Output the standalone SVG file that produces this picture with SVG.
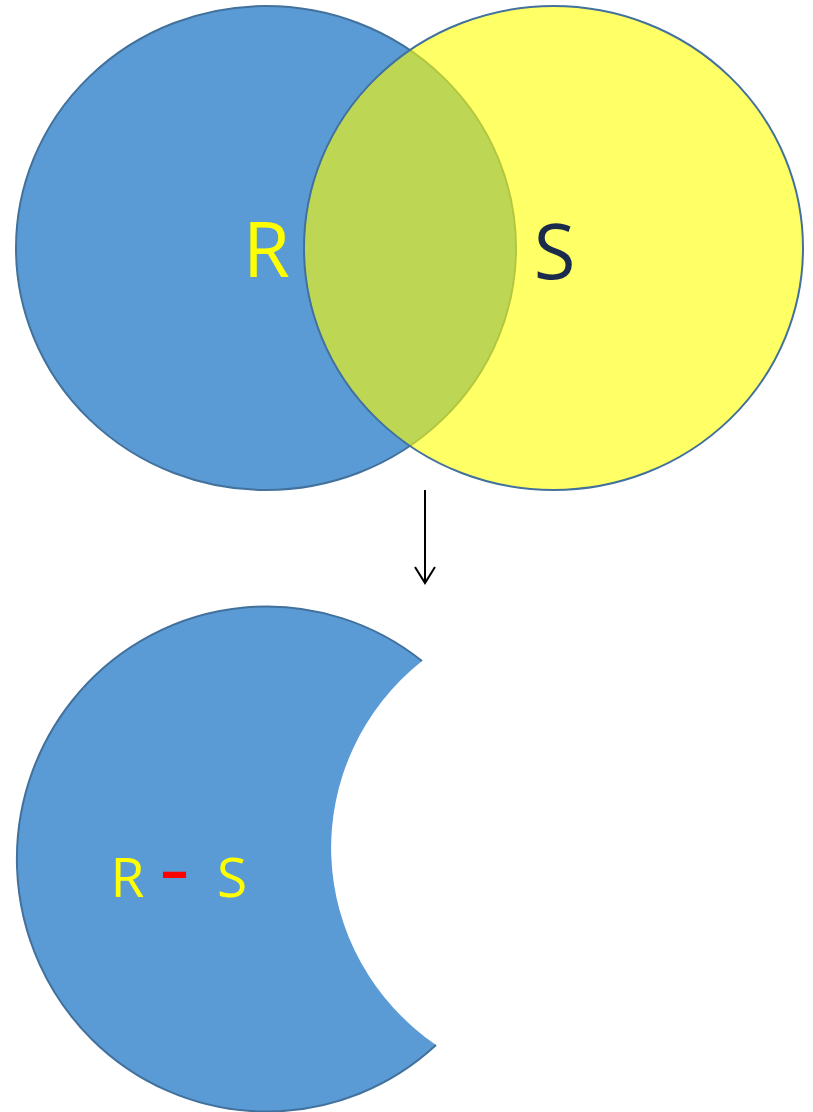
<svg xmlns="http://www.w3.org/2000/svg" width="813" height="1112" viewBox="0 0 813 1112">
  <style>
    .set-r { fill: #5B9BD5; stroke: #41719C; stroke-width: 2; }
    .set-s { fill: #FFFF00; fill-opacity: 0.6; stroke: #41719C; stroke-width: 2; }
    .label { font-family: "Open Sans", "Noto Sans", "Liberation Sans", sans-serif; text-anchor: middle; }
    .yellow { fill: #FFFF00; }
    .navy { fill: #1B2B4B; }
    .minus { fill: #FF0000; font-weight: bold; }
    .edge { fill: none; stroke: #41719C; stroke-width: 2; }
    .arrow { fill: none; stroke: #000000; stroke-width: 2; }
  </style>

  <!-- Venn diagram of R and S -->
  <g id="set-R">
    <ellipse class="set-r" cx="266" cy="248" rx="250" ry="242"/>
  </g>
  <g id="set-S">
    <ellipse class="set-s" cx="553.5" cy="248" rx="249.5" ry="242"/>
  </g>
  <g id="labels-venn">
    <text class="label yellow" x="266.5" y="277" font-size="76">R</text>
    <text class="label navy" x="554.5" y="279" font-size="76">S</text>
  </g>

  <!-- connector -->
  <g id="connectors">
    <line class="arrow" x1="425" y1="490" x2="425" y2="583"/>
    <polyline class="arrow" points="415,567 425,583 435,567"/>
  </g>

  <!-- difference R - S -->
  <g id="difference">
    <path fill="#5B9BD5" d="M422,661 A250,252.5 0 1 0 436,1045 A249.5,242 0 0 1 422,661 Z"/>
    <path class="edge" d="M422,661 A250,252.5 0 1 0 436,1045"/>
    <text class="label" font-size="55" y="897"><tspan class="yellow" x="127.5">R</tspan><tspan class="minus" x="174.5" dy="-7">–</tspan><tspan class="yellow" x="232" dy="7">S</tspan></text>
  </g>
</svg>
